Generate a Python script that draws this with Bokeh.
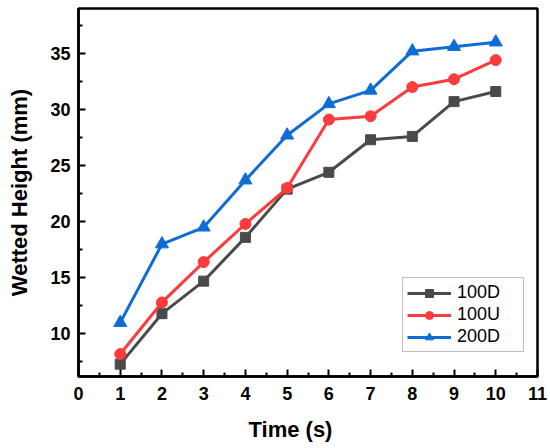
from bokeh.plotting import figure
from bokeh.embed import file_html
from bokeh.resources import INLINE
from bokeh.models import Range1d, FixedTicker, Legend, LegendItem, Title

time_s = [1, 2, 3, 4, 5, 6, 7, 8, 9, 10]
h_100D = [7.3, 11.8, 14.7, 18.6, 22.9, 24.4, 27.3, 27.6, 30.7, 31.6]
h_100U = [8.2, 12.8, 16.4, 19.8, 23.0, 29.1, 29.4, 32.0, 32.7, 34.4]
h_200D = [11.0, 18.0, 19.5, 23.7, 27.7, 30.5, 31.7, 35.2, 35.6, 36.0]

x_ticks = list(range(0, 12))
y_ticks = [10, 15, 20, 25, 30, 35]

FONT = "Liberation Sans"

p = figure(width=549, height=447, frame_width=459, frame_height=368,
           output_backend="svg", toolbar_location=None,
           x_range=Range1d(0, 11), y_range=Range1d(6.2, 39),
           min_border_left=78, min_border_right=12, min_border_top=8, min_border_bottom=71)
p.background_fill_color = "white"
p.border_fill_color = "white"
p.grid.visible = False
p.outline_line_color = "black"
p.outline_line_width = 2.5

for ax in (p.xaxis[0], p.yaxis[0]):
    ax.axis_line_width = 2.5
    ax.axis_line_color = "black"
    ax.major_tick_line_width = 2
    ax.minor_tick_line_width = 2
    ax.major_tick_in = 7
    ax.major_tick_out = 0
    ax.minor_tick_in = 4
    ax.minor_tick_out = 0
    ax.major_label_text_font = FONT
    ax.major_label_text_font_style = "bold"
    ax.major_label_text_font_size = "18px"
    ax.major_label_text_color = "black"
    ax.axis_label_text_font = FONT
    ax.axis_label_text_font_style = "bold"
    ax.axis_label_text_font_size = "22px"
    ax.axis_label_text_color = "black"

p.xaxis.ticker = FixedTicker(ticks=x_ticks, minor_ticks=[t + 0.5 for t in x_ticks[:-1]])
p.yaxis.ticker = FixedTicker(ticks=y_ticks, minor_ticks=[7.5 + 5 * i for i in range(7)])
p.xaxis.major_label_standoff = 10
p.yaxis.major_label_standoff = 8
p.yaxis.axis_label = "Wetted Height (mm)"
p.yaxis.axis_label_standoff = 15

xtitle = Title(text="Time (s)", align="left", offset=170, standoff=24,
               text_font=FONT, text_font_style="bold", text_font_size="22px",
               text_color="black")
p.add_layout(xtitle, "below")

series = [
    ("100D", h_100D, "#4a4a4a", "square", 10),
    ("100U", h_100U, "#fa3c3c", "circle", 11),
    ("200D", h_200D, "#0f6bd6", "triangle", 13),
]
items = []
for name, ys, col, mk, sz in series:
    r1 = p.line(time_s, ys, line_color=col, line_width=3)
    r2 = p.scatter(time_s, ys, marker=mk, size=sz, fill_color=col, line_color=col)
    items.append(LegendItem(label=name, renderers=[r1, r2]))

legend = Legend(items=items, location=(324, 24), padding=4, spacing=1,
                glyph_width=44, glyph_height=20, label_standoff=6, label_width=62,
                label_text_font=FONT, label_text_font_size="18px", label_text_color="black",
                border_line_color="#7f7f7f", border_line_width=1,
                background_fill_color="white", background_fill_alpha=1.0)
p.add_layout(legend, "center")

open("out.html", "w").write(file_html(p, INLINE))
